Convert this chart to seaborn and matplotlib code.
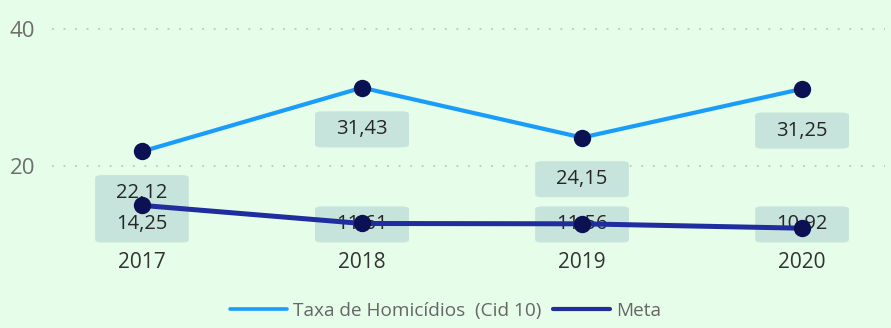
import matplotlib
matplotlib.use("Agg")
import matplotlib.pyplot as plt
from matplotlib.lines import Line2D
import pandas as pd
import seaborn as sns

# Data
anos = ["2017", "2018", "2019", "2020"]
taxa_homicidios = [22.12, 31.43, 24.15, 31.25]
meta = [14.25, 11.61, 11.56, 10.92]
serie_taxa = "Taxa de Homicídios  (Cid 10)"
serie_meta = "Meta"

BG = "#e6fde9"
C_TAXA = "#1a9cfb"
C_META = "#1f2d9e"
C_PONTO = "#0b1152"
C_CAIXA = "#c6e3dc"

sns.set_theme(style="white")
plt.rcParams["font.family"] = ["Open Sans", "DejaVu Sans"]

fig = plt.figure(figsize=(8.91, 3.28), dpi=100, facecolor=BG)
W, H = 891, 328
# axes box in pixel units: left 52, right 885, top 10, bottom 248
ax = fig.add_axes([52 / W, (H - 248) / H, (885 - 52) / W, (248 - 10) / H])
ax.set_facecolor(BG)

df = pd.DataFrame({"pos": range(len(anos)), "taxa": taxa_homicidios, "meta": meta})

sns.lineplot(data=df, x="pos", y="taxa", ax=ax, color=C_TAXA, linewidth=3.0,
             marker="o", markersize=12.5, markerfacecolor=C_PONTO,
             markeredgecolor=C_PONTO, markeredgewidth=0, zorder=3)
sns.lineplot(data=df, x="pos", y="meta", ax=ax, color=C_META, linewidth=3.6,
             marker="o", markersize=12.5, markerfacecolor=C_PONTO,
             markeredgecolor=C_PONTO, markeredgewidth=0, zorder=6)

ax.set_xlim(-0.409, 3.377)
ax.set_ylim(8.03, 42.77)

ax.set_yticks([20, 40])
ax.set_yticklabels(["20", "40"])
ax.set_xticks(range(len(anos)))
ax.set_xticklabels(anos)
ax.tick_params(axis="y", length=0, pad=12, labelsize=16, labelcolor="#6e6e6e")
ax.tick_params(axis="x", length=0, pad=3, labelsize=15, labelcolor="#333333")
ax.set_xlabel("")
ax.set_ylabel("")
for s in ax.spines.values():
    s.set_visible(False)

for yv in (20, 40):
    ax.axhline(yv, color="#c4c4c4", linewidth=1.3, linestyle=(0, (1, 5.4)), zorder=1)

box = dict(boxstyle="round,pad=1.05,rounding_size=0.35", facecolor=C_CAIXA,
           edgecolor="none", mutation_aspect=0.38)


def fmt(v):
    return f"{v:.2f}".replace(".", ",")


for i, v in enumerate(taxa_homicidios):
    ax.annotate(fmt(v), xy=(i, v), xytext=(0, -30), textcoords="offset points",
                ha="center", va="center", fontsize=14.5, color="#262626",
                bbox=box, zorder=4)

meta_label_y = 0.099  # axes fraction
for i, v in enumerate(meta):
    ax.annotate(fmt(v), xy=(i, meta_label_y), xycoords=ax.get_xaxis_transform(),
                ha="center", va="center", fontsize=14.5, color="#262626",
                bbox=box, zorder=5)

handles = [Line2D([], [], color=C_TAXA, linewidth=2.6),
           Line2D([], [], color=C_META, linewidth=3.0)]
fig.legend(handles, [serie_taxa, serie_meta], loc="center",
           bbox_to_anchor=(0.5, (H - 311) / H), ncol=2, frameon=False,
           fontsize=13.7, labelcolor="#666666", handlelength=3.0,
           handletextpad=0.3, columnspacing=0.6)

fig.savefig("out.png", dpi=100, facecolor=BG)
